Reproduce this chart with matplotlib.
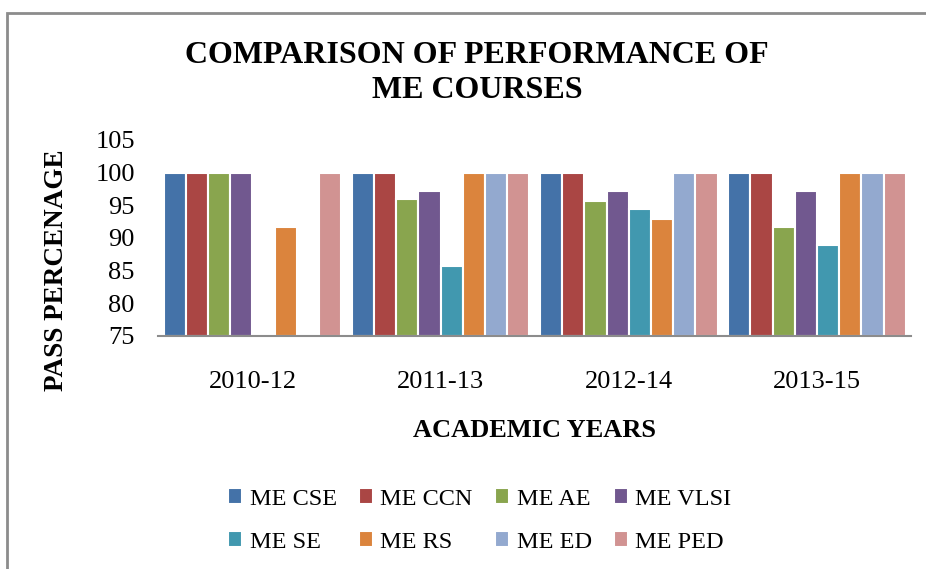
import numpy as np
import matplotlib.pyplot as plt
from matplotlib.patches import Rectangle

years = ['2010-12', '2011-13', '2012-14', '2013-15']
courses = ['ME CSE', 'ME CCN', 'ME AE', 'ME VLSI', 'ME SE', 'ME RS', 'ME ED', 'ME PED']
me_cse = [100, 100, 100, 100]
me_ccn = [100, 100, 100, 100]
me_ae = [100, 96.0, 95.6, 91.7]
me_vlsi = [100, 97.2, 97.2, 97.2]
me_se = [np.nan, 85.7, 94.4, 88.9]
me_rs = [91.7, 100, 92.9, 100]
me_ed = [np.nan, 100, 100, 100]
me_ped = [100, 100, 100, 100]
series = [me_cse, me_ccn, me_ae, me_vlsi, me_se, me_rs, me_ed, me_ped]
colors = ['#4472a8', '#aa4644', '#89a54e', '#71588f', '#4198af', '#db843d', '#93a9cf', '#d19392']

plt.rcParams['font.family'] = 'Liberation Serif'

fig = plt.figure(figsize=(9.26, 5.69), dpi=100)
fig.patches.append(Rectangle((7 / 926, -0.1), 1.2, 1 - 13 / 569 + 0.1, transform=fig.transFigure,
                             fill=False, edgecolor='#8c8c8c', linewidth=2))

ax = fig.add_axes([0.171, 0.4095, 0.813, 0.3445])
x = np.arange(len(years))
slot = 0.118
handles = []
for i, (name, vals) in enumerate(zip(courses, series)):
    b = ax.bar(x + (i - 3.5) * slot, np.array(vals) - 75, bottom=75, width=slot,
               color=colors[i], edgecolor='white', linewidth=1.5, label=name)
    handles.append(b)

ax.set_xlim(-0.5, 3.5)
ax.set_ylim(75, 105)
ax.set_yticks(range(75, 106, 5))
ax.set_xticks(x)
ax.set_xticklabels(years)
ax.tick_params(length=0, labelsize=19)
ax.tick_params(axis='x', pad=25)
ax.tick_params(axis='y', pad=17)
for s in ['top', 'right', 'left']:
    ax.spines[s].set_visible(False)
ax.spines['bottom'].set_color('#8c8c8c')
ax.spines['bottom'].set_linewidth(1.5)

ax.set_xlabel('ACADEMIC YEARS', fontsize=19, fontweight='bold', labelpad=19)
fig.text(57 / 926, 1 - 270 / 569, 'PASS PERCENAGE', rotation=90, ha='center', va='center',
         fontsize=19.5, fontweight='bold')
fig.text(0.515, 1 - 73 / 569, 'COMPARISON OF PERFORMANCE OF\nME COURSES', ha='center', va='center',
         fontsize=23, fontweight='bold', linespacing=1.25)

# legend is filled column by column, so reorder to read row by row
order = [0, 4, 1, 5, 2, 6, 3, 7]
fig.legend([handles[k] for k in order], [courses[k] for k in order],
           loc='center', bbox_to_anchor=(0.518, 1 - 520.5 / 569), ncol=4, frameon=False, fontsize=17.5,
           handlelength=0.6, handleheight=0.6, handletextpad=0.3, columnspacing=0.9,
           labelspacing=0.9)

fig.savefig('out.png', dpi=100)
